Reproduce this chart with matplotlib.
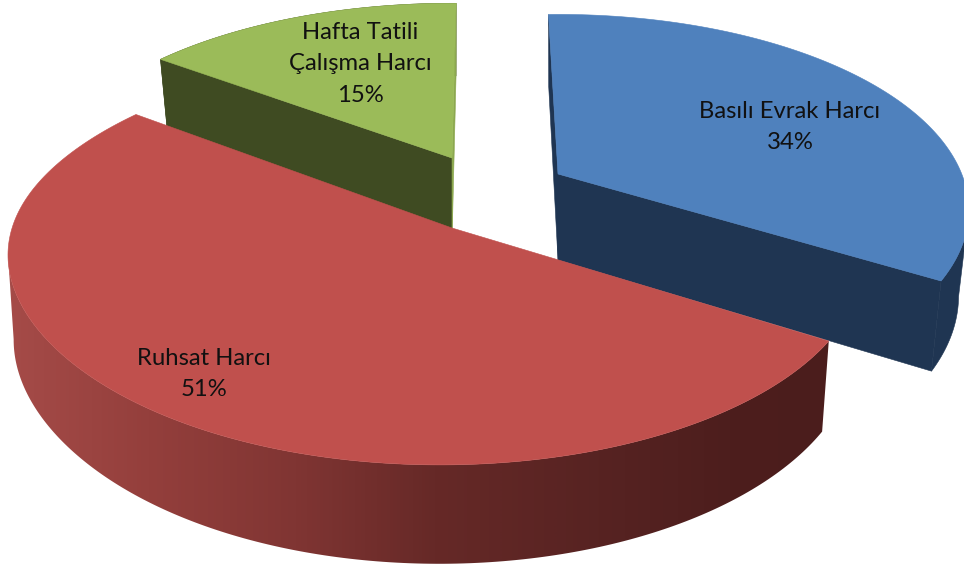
import numpy as np
import matplotlib
matplotlib.use("Agg")
import matplotlib.pyplot as plt
from matplotlib.patches import Polygon
from matplotlib.colors import LinearSegmentedColormap

categories = ["Basılı Evrak Harcı", "Ruhsat Harcı", "Hafta Tatili\nÇalışma Harcı"]
values = [34, 51, 15]

top_colors = ["#4F81BD", "#C0504D", "#9BBB59"]
wall_colors = ["#1F3552", None, "#3F4B22"]
sliver_colors = ["#1F3552", None, "#8CA84F"]

A, B, K = 425.0, 193.0, 0.185
# slice-specific placement: tip, scales, rotation, rim shifts and lower-rim fit
placement = [
    dict(tx=558, ty=174, sx=0.95, sy=0.98, rot=-1.6, shift=0, yshift=0, bulge=0, low_x=0.975, low_shift=0),
    dict(tx=452, ty=228, sx=0.98, sy=1.03, rot=0.5, shift=-12, yshift=-7, bulge=9, low_x=0.985, low_shift=-1),
    dict(tx=452, ty=158, sx=0.95, sy=0.95, rot=0.7, shift=0, yshift=0, bulge=0, low_x=0.975, low_shift=0),
]
DEPTH = 83
LOW_Y = 1.067

fig = plt.figure(figsize=(9.64, 5.67), dpi=100)
ax = fig.add_axes([0, 0, 1, 1])
ax.axis("off")


def rim(theta_deg, p, lower=False):
    t = np.radians(np.asarray(theta_deg, dtype=float) + p["rot"])
    u, v = np.sin(t), -np.cos(t)
    den = 1 - K * v
    x = p["sx"] * A * u / den + p["shift"] - p["bulge"] * np.clip(-u, 0, 1) ** 6
    y = p["sy"] * B * v / den + p["yshift"]
    if lower:
        return p["tx"] + p["low_shift"] + p["low_x"] * x, p["ty"] + LOW_Y * y + DEPTH
    return p["tx"] + x, p["ty"] + y


def tip(p, lower=False):
    return (p["tx"], p["ty"] + (DEPTH + 3 if lower else 0))


def poly(pts, color, z):
    patch = Polygon(pts, closed=True, fc=color, ec=color, lw=0.4, zorder=z)
    ax.add_patch(patch)
    return patch


total = sum(values)
edges = np.concatenate([[0], np.cumsum(values) / total * 360])
red_cmap = LinearSegmentedColormap.from_list(
    "red_side",
    [(0.0, "#A54B48"), (0.17, "#943F3C"), (0.35, "#803533"), (0.52, "#662927"),
     (0.72, "#572322"), (0.88, "#4D1E1D"), (1.0, "#4B1D1C")])

draw_order = [2, 0, 1]
for layer, i in enumerate(draw_order):
    p = placement[i]
    z = 10 * (layer + 1)
    th = np.linspace(edges[i], edges[i + 1], 241)
    xu, yu = rim(th, p)
    xl, yl = rim(th, p, lower=True)

    if i == 1:
        # visible wall runs from the right end to the leftmost rim point
        k = int(np.argmin(xu))
        wall = list(zip(xu[:k + 1], yu[:k + 1])) + list(zip(xl[k::-1], yl[k::-1]))
        outline = Polygon(wall, closed=True, fc="none", ec="none", transform=ax.transData)
        ax.add_patch(outline)
        grad = np.linspace(0, 1, 820)[None, :]
        im = ax.imshow(grad, cmap=red_cmap, extent=(8, 830, 570, 250), aspect="auto",
                       zorder=z, interpolation="bilinear")
        im.set_clip_path(outline)
    else:
        k = int(np.argmax(xu)) if i == 0 else 0
        wall = list(zip(xu[k:], yu[k:])) + list(zip(xl[:k - 1 if k > 0 else None:-1], yl[:k - 1 if k > 0 else None:-1]))
        poly(wall, wall_colors[i], z)
        for e in (0, -1):
            is_sliver = (i == 0 and e == 0) or (i == 2 and e == -1)
            col = sliver_colors[i] if is_sliver else wall_colors[i]
            poly([tip(p), (xu[e], yu[e]), (xl[e], yl[e]), tip(p, True)], col, z + 1)

    poly([tip(p)] + list(zip(xu, yu)), top_colors[i], z + 2)

ax.set_xlim(0, 964)
ax.set_ylim(567, 0)
ax.set_aspect("auto")

label_pos = [(790, 127), (204, 374), (360, 64)]
for name, val, (lx, ly) in zip(categories, values, label_pos):
    ax.text(lx, ly, f"{name}\n{val}%", ha="center", va="center", fontsize=17.2,
            family="Lato", color="#111111", linespacing=1.62, zorder=100)

fig.savefig("out.png", dpi=100)
